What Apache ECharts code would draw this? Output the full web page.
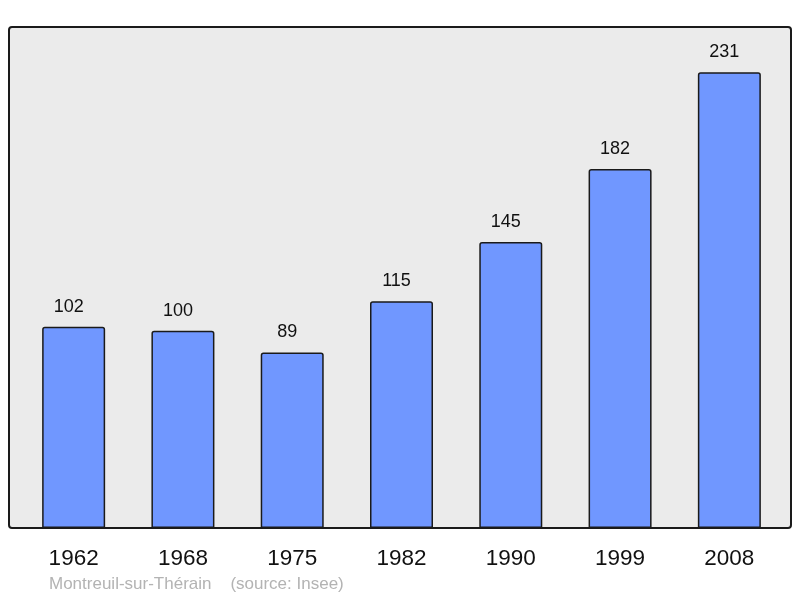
<!DOCTYPE html>
<html>
<head>
<meta charset="utf-8">
<script src="https://cdn.jsdelivr.net/npm/echarts@6/dist/echarts.min.js"></script>
<style>
html,body{margin:0;padding:0;background:#fff;}
#main{width:800px;height:598px;}
</style>
</head>
<body>
<div id="main"></div>
<script>
const years = ['1962', '1968', '1975', '1982', '1990', '1999', '2008'];
const population = [102, 100, 89, 115, 145, 182, 231];
const sourceText = 'Montreuil-sur-Thérain    (source: Insee)';

const chart = echarts.init(document.getElementById('main'), null, {renderer: 'canvas'});
chart.setOption({
  animation: false,
  backgroundColor: '#ffffff',
  textStyle: {fontFamily: 'Liberation Sans, Arial, sans-serif'},
  graphic: [
    {
      type: 'rect', z: -10, silent: true,
      shape: {x: 9, y: 27, width: 782, height: 501, r: 3},
      style: {fill: '#ebebeb', stroke: '#1a1a1a', lineWidth: 2}
    },
    {
      type: 'text', left: 49, top: 576, silent: true,
      style: {text: sourceText, fill: '#b3b3b3', font: '17px "Liberation Sans", Arial, sans-serif'}
    }
  ],
  grid: {left: 19, right: 16, top: 27, bottom: 70, containLabel: false},
  xAxis: {
    type: 'category',
    data: years,
    axisLine: {show: false},
    axisTick: {show: false},
    axisLabel: {color: '#111', fontSize: 22.5, margin: 19, fontFamily: 'Liberation Sans, Arial, sans-serif'}
  },
  yAxis: {
    type: 'value', min: 0, max: 254,
    show: false,
    splitLine: {show: false}
  },
  series: [{
    type: 'bar',
    data: population,
    barWidth: 63,
    itemStyle: {color: '#7097ff', borderColor: '#1a1a1a', borderWidth: 1.5, borderRadius: [2, 2, 0, 0]},
    label: {show: true, position: 'top', distance: 11, offset: [-5, 0], color: '#111', fontSize: 18, fontFamily: 'Liberation Sans, Arial, sans-serif'}
  }]
});
</script>
</body>
</html>
